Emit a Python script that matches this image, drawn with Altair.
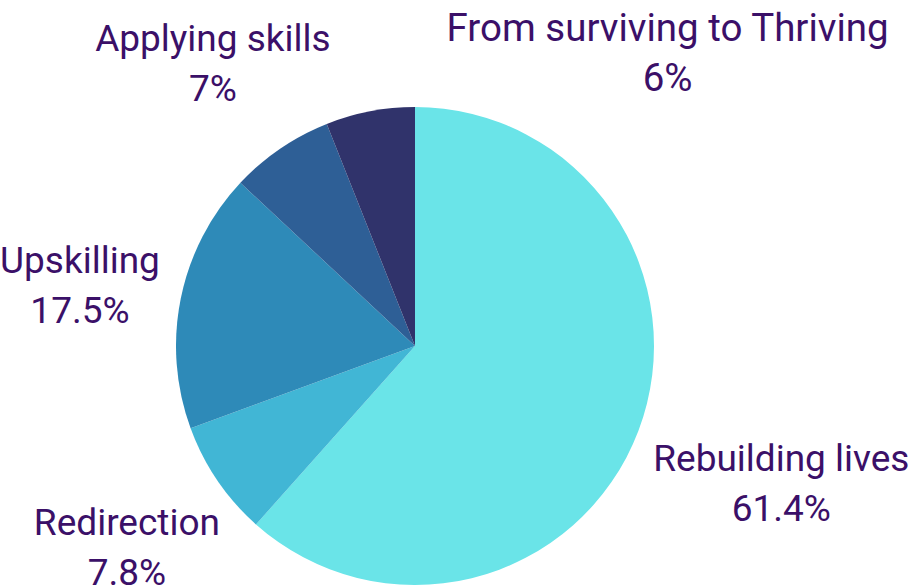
import altair as alt
import pandas as pd

categories = ["Rebuilding lives", "Redirection", "Upskilling", "Applying skills", "From surviving to Thriving"]
values = [61.4, 7.8, 17.5, 7.0, 6.0]
pct_labels = ["61.4%", "7.8%", "17.5%", "7%", "6%"]
colors = ["#6ae4e8", "#41b6d5", "#2e8ab8", "#2e5f96", "#30336b"]

df = pd.DataFrame({
    "category": categories,
    "value": values,
    "pct": pct_labels,
    "idx": list(range(len(categories))),
})

CX, CY, R = 415, 346, 239
LABEL_R = 300
TEXT_COLOR = "#3b1068"

theta = alt.Theta("value:Q", stack=True)
order = alt.Order("idx:Q", sort="ascending")
color = alt.Color("category:N", scale=alt.Scale(domain=categories, range=colors), legend=None)

base = alt.Chart(df)

pie = base.mark_arc(radius=R, x=CX, y=CY, stroke=None).encode(
    theta=theta, order=order, color=color
)

# per-label offsets (dx, dy) from the slice mid-angle anchor, and font size
label_style = {
    "Rebuilding lives": (86, 7, 37),
    "Redirection": (-40, 9, 37),
    "Upskilling": (-41, -24, 37),
    "Applying skills": (-33, -58, 37),
    "From surviving to Thriving": (309, -22, 38.5),
}

layers = [pie]
for cat in categories:
    dx, dy, fs = label_style[cat]
    t = base.transform_calculate(
        txt=f"datum.category == '{cat}' ? datum.category + '\\n' + datum.pct : ''"
    ).mark_text(
        radius=LABEL_R, x=CX, y=CY, dx=dx, dy=dy,
        font="Roboto", fontSize=fs, color=TEXT_COLOR,
        align="center", baseline="middle", lineBreak="\n", lineHeight=50,
    ).encode(theta=theta, order=order, text="txt:N")
    layers.append(t)

chart = alt.layer(*layers).properties(
    width=912, height=586, padding=0, autosize=alt.AutoSizeParams(type="none")
).configure_view(stroke=None)

chart.save("out.html", embed_options={"renderer": "svg", "actions": False})
